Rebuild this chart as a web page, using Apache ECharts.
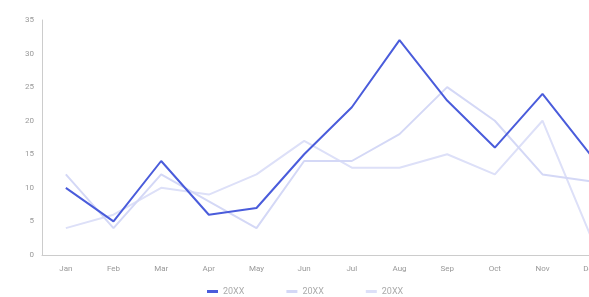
<!DOCTYPE html>
<html>
<head>
<meta charset="utf-8">
<script src="https://cdn.jsdelivr.net/npm/echarts@6/dist/echarts.min.js"></script>
<style>
html,body{margin:0;padding:0;background:#fff;overflow:hidden;width:589px;height:297px;}
#chart{width:640px;height:297px;}
</style>
</head>
<body>
<div id="chart"></div>
<script>
const categories = ['Jan','Feb','Mar','Apr','May','Jun','Jul','Aug','Sep','Oct','Nov','Dec'];
const seriesNames = ['20XX','20XX','20XX'];
const seriesA = [10,5,14,6,7,15,22,32,23,16,24,15];
const seriesB = [12,4,12,8,4,14,14,18,25,20,12,11];
const seriesC = [4,6,10,9,12,17,13,13,15,12,20,3];
const yTicks = {min:0, max:35, interval:5};

const colors = ['#4a5cdb','#d4d8f6','#dde0f8'];
const chart = echarts.init(document.getElementById('chart'));
const mk = (name, data, color, z) => ({
  name, type:'line', data, symbol:'none', z,
  lineStyle:{color, width:2}, itemStyle:{color}
});
chart.setOption({
  animation:false,
  textStyle:{fontFamily:'Roboto, sans-serif'},
  grid:{left:42, right:26, top:20, bottom:42},
  legend:{
    left:202, top:282, itemWidth:11, itemHeight:3, itemGap:42,
    icon:'rect',
    textStyle:{color:'#aaa', fontSize:9},
    data:[0,1,2].map(i=>({name: 's'+i})),
    formatter:(n)=>seriesNames[+n.slice(1)]
  },
  xAxis:{
    type:'category', data:categories, boundaryGap:true,
    axisLine:{lineStyle:{color:'#ccc', width:1}},
    axisTick:{show:false},
    axisLabel:{color:'#999', fontSize:8, margin:10}
  },
  yAxis:{
    type:'value', min:yTicks.min, max:yTicks.max, interval:yTicks.interval,
    axisLine:{show:true, lineStyle:{color:'#ccc', width:1}},
    axisTick:{show:false},
    splitLine:{show:false},
    axisLabel:{color:'#999', fontSize:8, margin:8}
  },
  series:[
    mk('s2', seriesC, colors[2], 1),
    mk('s1', seriesB, colors[1], 2),
    mk('s0', seriesA, colors[0], 3)
  ]
});
</script>
</body>
</html>
